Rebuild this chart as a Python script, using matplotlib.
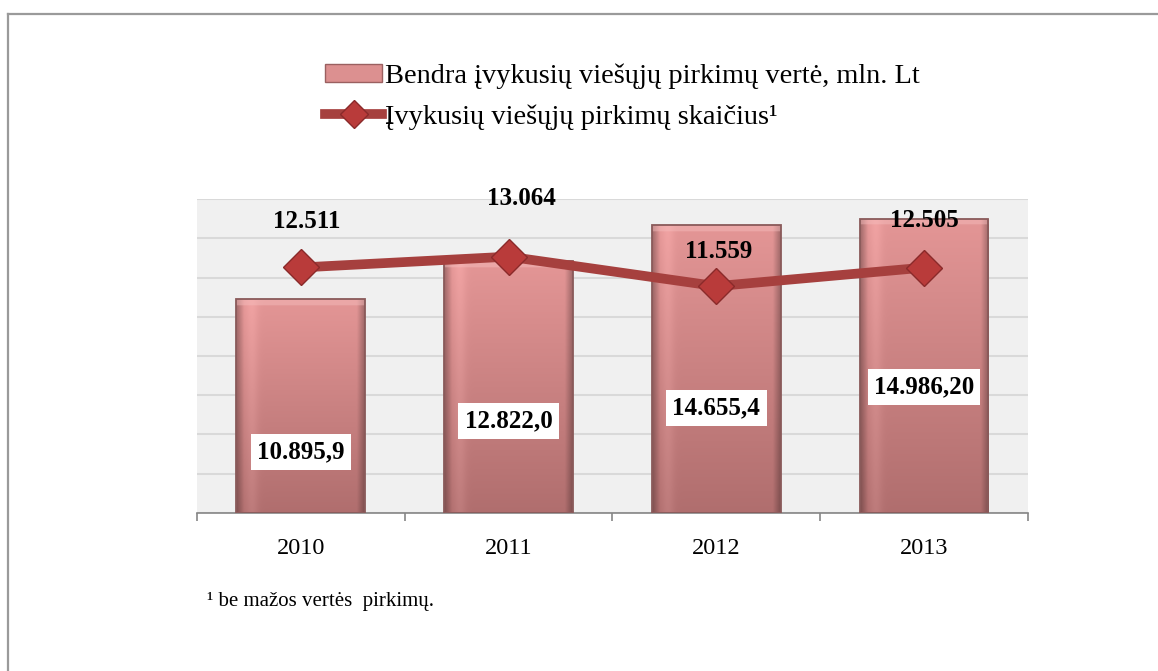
import matplotlib
matplotlib.use("Agg")
import matplotlib.pyplot as plt
import numpy as np
from matplotlib.lines import Line2D
from matplotlib.patches import Rectangle

# ------------------------------
# DATA
# ------------------------------
years = ["2010", "2011", "2012", "2013"]
value_mln = [10895.9, 12822.0, 14655.4, 14986.20]
value_labels = ["10.895,9", "12.822,0", "14.655,4", "14.986,20"]
count = [12511, 13064, 11559, 12505]
count_labels = ["12.511", "13.064", "11.559", "12.505"]

legend_labels = ["Bendra įvykusių viešųjų pirkimų vertė, mln. Lt",
                 "Įvykusių viešųjų pirkimų skaičius¹"]
footnote = "¹ be mažos vertės  pirkimų."

# ------------------------------
# STYLE
# ------------------------------
plt.rcParams["font.family"] = ["Liberation Serif", "DejaVu Serif"]
LINE_COLOR = "#a6403e"
MARKER_COLOR = "#b93b3a"
MARKER_EDGE = "#8a2a2a"
BG = "#f0f0f0"
GRID = "#d9d9d9"

# where the value boxes sit, as a share of each bar height
bar_label_frac = [0.285, 0.366, 0.365, 0.428]
# offsets (points) of the count labels from their markers
count_label_offsets = [(4, 33), (9, 42), (2, 25), (0, 34)]


def bar_gradient(h, bevel=330, step=20):
    rows = max(int(h / step), 10)
    cols = 120
    t = np.linspace(0, 1, rows)[:, None]
    s = np.linspace(0, 1, cols)[None, :]
    top = np.array([228, 150, 150]) / 255
    bot = np.array([176, 110, 110]) / 255
    img = top[None, None, :] * (1 - t[..., None]) + bot[None, None, :] * t[..., None]
    img = np.broadcast_to(img, (rows, cols, 3)).copy()
    # darker side edges, small highlight near the left
    edge = np.clip((np.abs(s - 0.5) - 0.44) / 0.06, 0, 1)
    img *= (1 - 0.28 * edge)[..., None]
    glow = np.exp(-((s - 0.12) / 0.05) ** 2) * 0.05
    img = np.clip(img + glow[..., None], 0, 1)
    # lighter bevel on top
    nb = max(int(bevel / step), 1)
    img[:nb] = np.clip(img[:nb] * 0.55 + np.array([245, 190, 190]) / 255 * 0.45, 0, 1)
    return img


fig = plt.figure(figsize=(11.58, 6.71), dpi=100)
ax = fig.add_axes([0.1701, 0.2355, 0.7176, 0.4679])
ax.set_facecolor(BG)

x = np.arange(len(years))
bars = ax.bar(x, value_mln, width=0.62, color="none", edgecolor="#8a5a5a",
              linewidth=1.3, zorder=3)
for b in bars:
    x0, w, h = b.get_x(), b.get_width(), b.get_height()
    im = ax.imshow(bar_gradient(h), extent=[x0, x0 + w, 0, h], aspect="auto",
                   origin="upper", zorder=2.5, interpolation="bilinear")
    im.set_clip_path(b)

ax.plot(x, count, color=LINE_COLOR, lw=7, solid_capstyle="butt", zorder=4,
        marker="D", ms=18, markerfacecolor=MARKER_COLOR, markeredgecolor=MARKER_EDGE,
        markeredgewidth=1.0)

for xi, v, lab, fr in zip(x, value_mln, value_labels, bar_label_frac):
    ax.text(xi, v * fr, lab, ha="center", va="center", fontsize=18,
            fontweight="bold", color="black", zorder=6,
            bbox=dict(boxstyle="square,pad=0.25", facecolor="white", edgecolor="none"))

for xi, c, lab, off in zip(x, count, count_labels, count_label_offsets):
    ax.annotate(lab, (xi, c), xytext=off, textcoords="offset points",
                ha="center", va="center", fontsize=18, fontweight="bold",
                color="black", zorder=6, annotation_clip=False)

ax.set_xlim(-0.5, len(years) - 0.5)
ax.set_ylim(0, 16000)
ax.set_yticks(np.arange(0, 16001, 2000))
ax.yaxis.grid(True, color=GRID, lw=1.5, zorder=0)
ax.set_axisbelow(True)
ax.tick_params(axis="y", left=False, labelleft=False)
ax.set_xticks(x)
ax.set_xticklabels(years, fontsize=17.5)
ax.set_xticks(np.arange(-0.5, len(years), 1.0), minor=True)
ax.tick_params(axis="x", which="major", length=0, pad=18)
ax.tick_params(axis="x", which="minor", length=6, color="#868686", width=1.2)
for side in ["top", "right", "left"]:
    ax.spines[side].set_visible(False)
ax.spines["bottom"].set_color("#868686")
ax.spines["bottom"].set_linewidth(1.2)

# legend
bar_handle = Rectangle((0, 0), 1, 1, facecolor="#dc9090", edgecolor="#9a6060", lw=1.0)
line_handle = Line2D([], [], color=LINE_COLOR, lw=7, marker="D", ms=14,
                     markerfacecolor=MARKER_COLOR, markeredgecolor=MARKER_EDGE)
fig.legend([bar_handle, line_handle], legend_labels, loc="upper left",
           bbox_to_anchor=(0.281, 0.906), frameon=False, fontsize=20.4,
           handlelength=2.0, handleheight=0.6, handletextpad=0.1,
           labelspacing=0.55, borderpad=0, borderaxespad=0)

fig.text(0.179, 0.104, footnote, fontsize=15, ha="left", va="center")

# outer frame (top and left edges)
fig.add_artist(Line2D([0.0069, 1.0], [0.979, 0.979], color="#9a9a9a", lw=1.6,
                      transform=fig.transFigure))
fig.add_artist(Line2D([0.0069, 0.0069], [0.0, 0.979], color="#9a9a9a", lw=1.6,
                      transform=fig.transFigure))

fig.savefig("out.png", dpi=100)
